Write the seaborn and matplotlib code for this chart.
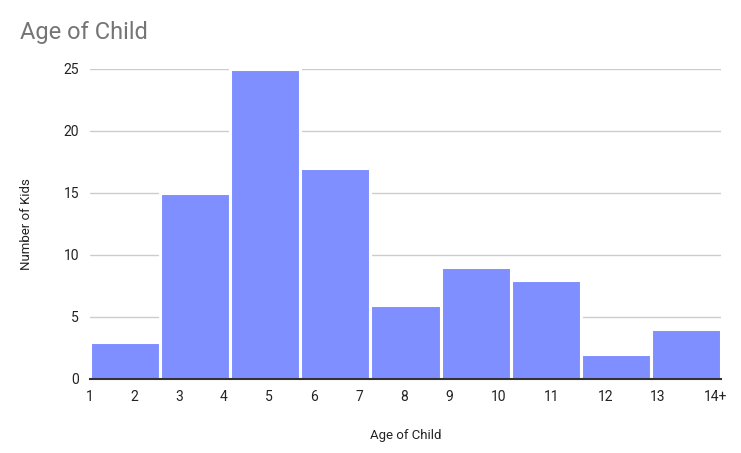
import matplotlib
matplotlib.use('Agg')
import matplotlib.pyplot as plt
import pandas as pd
import seaborn as sns

# Histogram buckets (left to right) and their counts
bucket_index = [0, 1, 2, 3, 4, 5, 6, 7, 8]
kid_counts = [3, 15, 25, 17, 6, 9, 8, 2, 4]

# Age labels under the x axis
age_labels = ['1', '2', '3', '4', '5', '6', '7', '8', '9', '10', '11', '12',
              '13', '14+']
# where each age label sits, in bucket units
age_label_pos = [0.0, 0.63, 1.27, 1.90, 2.55, 3.19, 3.84, 4.48, 5.12, 5.83,
                 6.59, 7.36, 8.10, 8.92]

y_ticks = [0, 5, 10, 15, 20, 25]

df = pd.DataFrame({'bucket': bucket_index, 'count': kid_counts})

sns.set_theme(style='white')
plt.rcParams['font.family'] = ['Roboto', 'DejaVu Sans']

fig = plt.figure(figsize=(7.41, 4.53), dpi=100)
ax = fig.add_axes([90 / 741, 1 - 379 / 453, 631 / 741, 310 / 453])

sns.histplot(data=df, x='bucket', weights='count', binwidth=1,
             binrange=(0, 9), color='#7f8fff', alpha=1, edgecolor='white',
             linewidth=2.2, ax=ax)

ax.set_xlim(0, 9)
ax.set_ylim(0, 25)
ax.set_yticks(y_ticks)
ax.set_xticks(age_label_pos)
ax.set_xticklabels(age_labels)
ax.tick_params(axis='both', length=0, labelsize=10, colors='#222222')
ax.tick_params(axis='y', pad=8)
ax.tick_params(axis='x', pad=8)
ax.grid(axis='y', color='#cccccc', linewidth=1)
ax.set_axisbelow(True)
for side in ['top', 'right', 'left']:
    ax.spines[side].set_visible(False)
ax.spines['bottom'].set_color('#333333')
ax.spines['bottom'].set_linewidth(1.5)
for p in ax.patches:
    p.set_clip_on(False)

ax.set_xlabel('Age of Child', fontsize=9.5, color='#222222', labelpad=18)
ax.set_ylabel('Number of Kids', fontsize=9.5, color='#222222', labelpad=22)

fig.text(20 / 741, 1 - 33 / 453, 'Age of Child', fontsize=17,
         color='#757575', ha='left', va='center')

fig.savefig('out.png', dpi=100)
